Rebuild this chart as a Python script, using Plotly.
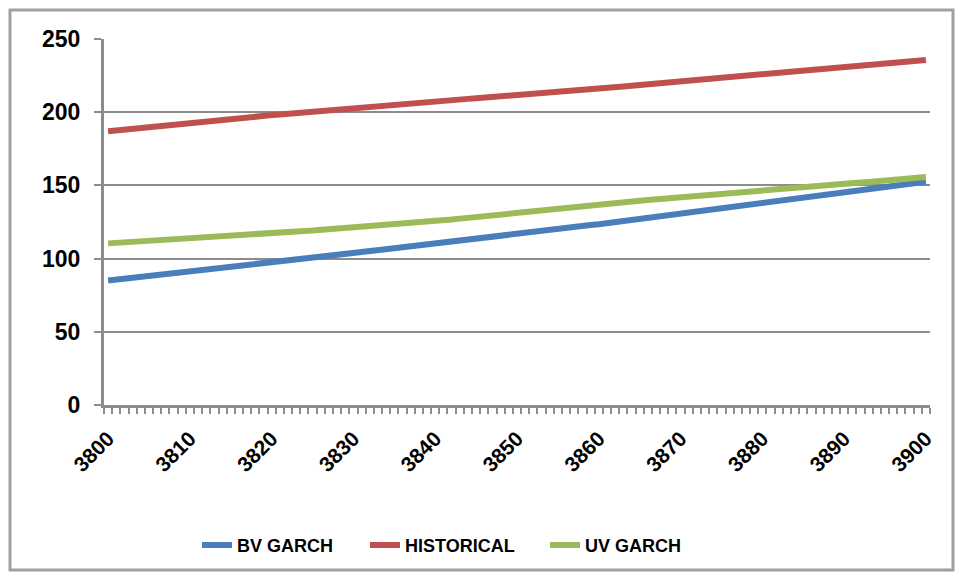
import plotly.graph_objects as go

x_values = list(range(3800, 3901))

bv_garch = [
    85.0, 85.6, 86.3, 86.9, 87.6, 88.2, 88.9, 89.5, 90.2, 90.8,
    91.5, 92.1, 92.7, 93.3, 93.9, 94.5, 95.1, 95.7, 96.3, 96.9,
    97.5, 98.1, 98.7, 99.3, 99.9, 100.5, 101.1, 101.7, 102.3, 102.9,
    103.5, 104.2, 104.9, 105.6, 106.3, 107.0, 107.7, 108.4, 109.1, 109.8,
    110.5, 111.2, 111.9, 112.6, 113.3, 114.0, 114.7, 115.4, 116.1, 116.8,
    117.5, 118.1, 118.7, 119.3, 119.9, 120.5, 121.1, 121.7, 122.3, 122.9,
    123.5, 124.2, 124.9, 125.6, 126.3, 127.0, 127.7, 128.4, 129.1, 129.8,
    130.5, 131.3, 132.1, 132.9, 133.7, 134.5, 135.3, 136.1, 136.9, 137.7,
    138.5, 139.2, 139.9, 140.6, 141.3, 142.0, 142.7, 143.4, 144.1, 144.8,
    145.5, 146.2, 146.9, 147.6, 148.3, 149.0, 149.7, 150.4, 151.1, 151.8,
    152.5,
]

historical = [
    187.0, 187.6, 188.1, 188.7, 189.2, 189.8, 190.3, 190.9, 191.4, 192.0,
    192.5, 193.1, 193.6, 194.2, 194.7, 195.3, 195.8, 196.4, 196.9, 197.5,
    198.0, 198.5, 199.0, 199.5, 200.0, 200.5, 201.0, 201.5, 202.0, 202.5,
    203.0, 203.5, 203.9, 204.4, 204.8, 205.3, 205.7, 206.2, 206.6, 207.1,
    207.5, 207.9, 208.3, 208.7, 209.1, 209.5, 209.9, 210.3, 210.7, 211.1,
    211.5, 212.0, 212.4, 212.9, 213.4, 213.9, 214.3, 214.8, 215.3, 215.7,
    216.2, 216.7, 217.2, 217.6, 218.1, 218.6, 219.1, 219.6, 220.0, 220.5,
    221.0, 221.6, 222.1, 222.7, 223.2, 223.8, 224.3, 224.9, 225.4, 226.0,
    226.5, 227.0, 227.4, 227.9, 228.3, 228.8, 229.2, 229.7, 230.1, 230.6,
    231.0, 231.5, 231.9, 232.4, 232.9, 233.4, 233.8, 234.3, 234.8, 235.2,
    235.7,
]

uv_garch = [
    110.4, 110.8, 111.1, 111.5, 111.8, 112.2, 112.5, 112.9, 113.2, 113.6,
    114.0, 114.3, 114.7, 115.0, 115.4, 115.7, 116.1, 116.4, 116.8, 117.1,
    117.5, 117.8, 118.2, 118.5, 118.9, 119.2, 119.6, 119.9, 120.3, 120.6,
    121.0, 121.4, 121.9, 122.3, 122.8, 123.2, 123.7, 124.1, 124.6, 125.0,
    125.5, 126.1, 126.7, 127.3, 127.9, 128.5, 129.1, 129.7, 130.3, 130.9,
    131.5, 132.0, 132.6, 133.1, 133.7, 134.2, 134.8, 135.3, 135.9, 136.4,
    137.0, 137.5, 138.0, 138.5, 139.0, 139.5, 140.0, 140.5, 141.0, 141.5,
    142.0, 142.4, 142.9, 143.3, 143.8, 144.2, 144.7, 145.1, 145.6, 146.0,
    146.5, 146.9, 147.4, 147.8, 148.3, 148.7, 149.2, 149.6, 150.1, 150.5,
    151.0, 151.5, 152.0, 152.4, 152.9, 153.4, 153.9, 154.3, 154.8, 155.3,
    155.8,
]

series_names = ["BV GARCH", "HISTORICAL", "UV GARCH"]
series_colors = ["#4A7EBB", "#C0504D", "#9BBB59"]
x_tick_vals = list(range(3800, 3901, 10))
y_tick_vals = [0, 50, 100, 150, 200, 250]

FONT = "Liberation Sans"
GRID = "#8C8C8C"

legend_ids = ["legend", "legend2", "legend3"]
legend_left_px = [197, 365, 545]

fig = go.Figure()
for name, ys, col, lg in zip(series_names, [bv_garch, historical, uv_garch],
                             series_colors, legend_ids):
    fig.add_trace(go.Scatter(
        x=x_values, y=ys, mode="lines", name=name, legend=lg,
        line=dict(color=col, width=6),
    ))

legend_style = dict(
    orientation="h", xref="container", yref="container",
    xanchor="left", y=0.06, yanchor="middle",
    font=dict(family=FONT, size=18, color="black", weight="bold"),
    itemwidth=30, bgcolor="rgba(0,0,0,0)",
)
legend_layout = {
    lg: dict(legend_style, x=px / 961)
    for lg, px in zip(legend_ids, legend_left_px)
}

fig.update_layout(
    width=961, height=580,
    margin=dict(l=104, r=31, t=39, b=175),
    paper_bgcolor="white", plot_bgcolor="white",
    font=dict(family=FONT, size=16, color="black"),
    showlegend=True,
    xaxis=dict(
        range=[3799.5, 3900.5],
        tickmode="array", tickvals=x_tick_vals,
        ticktext=[f"<b>{v}</b>" for v in x_tick_vals],
        tickangle=-45,
        tickfont=dict(family=FONT, size=21, color="black"),
        ticks="",
        ticklabelstandoff=10,
        showgrid=False, zeroline=False,
        showline=True, linecolor=GRID, linewidth=3,
        minor=dict(tick0=3799.5, dtick=1, ticks="outside", ticklen=6,
                   tickwidth=2, tickcolor=GRID, showgrid=False),
    ),
    yaxis=dict(
        range=[0, 250],
        tickmode="array", tickvals=y_tick_vals,
        ticktext=[f"<b>{v}</b>" for v in y_tick_vals],
        tickfont=dict(family=FONT, size=23, color="black"),
        ticks="outside", ticklen=7, tickwidth=2, tickcolor=GRID,
        ticklabelstandoff=9,
        showgrid=True, gridcolor=GRID, gridwidth=2,
        zeroline=False,
        showline=True, linecolor=GRID, linewidth=3,
    ),
    **legend_layout,
)

# outer chart border
fig.add_shape(
    type="rect", xref="paper", yref="paper",
    x0=(10 - 104) / 826, x1=(953 - 104) / 826,
    y0=(405 - 570) / 366, y1=(405 - 10) / 366,
    line=dict(color="#A0A0A0", width=3), fillcolor="rgba(0,0,0,0)",
    layer="below",
)

fig.write_html("out.html")
